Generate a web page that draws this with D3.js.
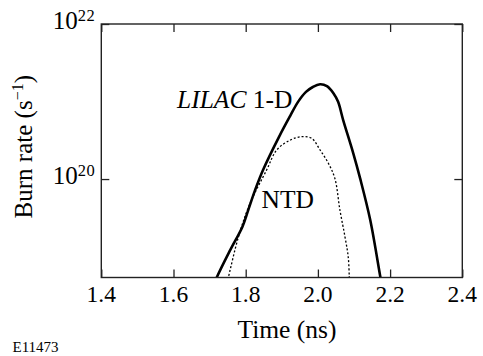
<!DOCTYPE html>
<html>
<head>
<meta charset="utf-8">
<script src="https://cdn.jsdelivr.net/npm/d3@7"></script>
<style>
  body { margin: 0; background: #fff; }
  svg { display: block; }
</style>
</head>
<body>
<div id="app"></div>
<script>
// LILAC 1-D simulation (time in ns, burn rate in s^-1)
const lilacTime = [1.700, 1.720, 1.757, 1.791, 1.807, 1.826, 1.848, 1.892, 1.923, 1.945, 1.967, 1.986, 2.006, 2.025, 2.043, 2.056, 2.070, 2.098, 2.117, 2.145, 2.172, 2.180];
const lilacRate = [3.2e18, 5.4e18, 1.21e19, 2.43e19, 3.98e19, 7.2e19, 1.31e20, 3.48e20, 6.5e20, 9.9e20, 1.33e21, 1.54e21, 1.67e21, 1.58e21, 1.28e21, 9.9e20, 5.77e20, 2.15e20, 1.02e20, 2.96e19, 5.8e18, 3.6e18];
// NTD measurement
const ntdTime = [1.745, 1.752, 1.780, 1.812, 1.858, 1.886, 1.923, 1.955, 1.983, 2.006, 2.029, 2.047, 2.061, 2.075, 2.084, 2.087, 2.088];
const ntdRate = [4.0e18, 5.4e18, 1.80e19, 4.85e19, 1.31e20, 2.37e20, 3.18e20, 3.52e20, 3.35e20, 2.37e20, 1.60e20, 1.02e20, 3.98e19, 1.80e19, 9.9e18, 5.4e18, 4.0e18];

const xTicks = [1.4, 1.6, 1.8, 2.0, 2.2, 2.4];
const yTicks = [1e20, 1e22];
const yTickExp = ['20', '22'];

const width = 483;
const height = 356;
const margin = { top: 24, right: 20.7, bottom: 78.5, left: 101.3 };
const innerW = width - margin.left - margin.right;
const innerH = height - margin.top - margin.bottom;
const serif = "'Liberation Serif', 'Times New Roman', serif";

const svg = d3.select('#app').append('svg')
  .attr('width', width)
  .attr('height', height)
  .attr('font-family', serif);

const x = d3.scaleLinear().domain([1.4, 2.4]).range([0, innerW]);
const y = d3.scaleLog().domain([5.37e18, 1e22]).range([innerH, 0]);

const g = svg.append('g').attr('transform', `translate(${margin.left},${margin.top})`);

svg.append('defs').append('clipPath').attr('id', 'plot-clip')
  .append('rect').attr('width', innerW).attr('height', innerH);

// curves
const line = d3.line()
  .x((d) => x(d[0]))
  .y((d) => y(d[1]))
  .curve(d3.curveCatmullRom.alpha(0.5));

const curves = g.append('g').attr('clip-path', 'url(#plot-clip)');

curves.append('path')
  .datum(ntdTime.map((t, i) => [t, ntdRate[i]]))
  .attr('d', line)
  .attr('fill', 'none')
  .attr('stroke', '#000')
  .attr('stroke-width', 1.3)
  .attr('stroke-dasharray', '2,2');

curves.append('path')
  .datum(lilacTime.map((t, i) => [t, lilacRate[i]]))
  .attr('d', line)
  .attr('fill', 'none')
  .attr('stroke', '#000')
  .attr('stroke-width', 2.6);

// ticks, inward on all sides
const tickLen = 8;
const axisColor = '#222';
g.append('g').call(d3.axisBottom(x).tickValues(xTicks).tickSize(-tickLen).tickFormat(''))
  .attr('transform', `translate(0,${innerH})`);
g.append('g').call(d3.axisTop(x).tickValues(xTicks).tickSize(-tickLen).tickFormat(''));
g.append('g').call(d3.axisLeft(y).tickValues(yTicks).tickSize(-tickLen).tickFormat(''));
g.append('g').call(d3.axisRight(y).tickValues(yTicks).tickSize(-tickLen).tickFormat(''))
  .attr('transform', `translate(${innerW},0)`);
g.selectAll('.domain').remove();
g.selectAll('.tick line').attr('stroke', axisColor).attr('stroke-width', 1.3);

// frame
g.append('rect')
  .attr('width', innerW)
  .attr('height', innerH)
  .attr('fill', 'none')
  .attr('stroke', axisColor)
  .attr('stroke-width', 1.4);

// x tick labels
g.selectAll('.x-label')
  .data(xTicks)
  .enter()
  .append('text')
  .attr('x', (d) => x(d))
  .attr('y', innerH + 24)
  .attr('text-anchor', 'middle')
  .attr('font-size', 23.5)
  .text((d) => d.toFixed(1));

// y tick labels with superscripts
const yLabels = g.selectAll('.y-label')
  .data(yTicks)
  .enter()
  .append('text')
  .attr('x', -6)
  .attr('y', (d) => y(d) + 5)
  .attr('text-anchor', 'end')
  .attr('font-size', 25);
yLabels.append('tspan').text('10');
yLabels.append('tspan')
  .attr('dy', -8.5)
  .attr('font-size', 16.5)
  .attr('letter-spacing', 0.5)
  .text((d, i) => yTickExp[i]);

// axis titles
svg.append('text')
  .attr('x', 287)
  .attr('y', 338)
  .attr('text-anchor', 'middle')
  .attr('font-size', 25.5)
  .text('Time (ns)');

const yTitle = svg.append('text')
  .attr('transform', 'translate(31.5,146.7) rotate(-90)')
  .attr('text-anchor', 'middle')
  .attr('font-size', 25);
yTitle.append('tspan').text('Burn rate (s');
yTitle.append('tspan').attr('dy', -9).attr('font-size', 16).text('\u22121');
yTitle.append('tspan').attr('dy', 9).text(')');

// curve labels
const lilacLabel = svg.append('text')
  .attr('x', 177)
  .attr('y', 108.3)
  .attr('font-size', 25.5);
lilacLabel.append('tspan').attr('font-style', 'italic').text('LILAC');
lilacLabel.append('tspan').text(' 1-D');

svg.append('text')
  .attr('x', 261.5)
  .attr('y', 208.3)
  .attr('font-size', 25.5)
  .text('NTD');

svg.append('text')
  .attr('x', 12.5)
  .attr('y', 351.7)
  .attr('font-size', 15)
  .text('E11473');
</script>
</body>
</html>
